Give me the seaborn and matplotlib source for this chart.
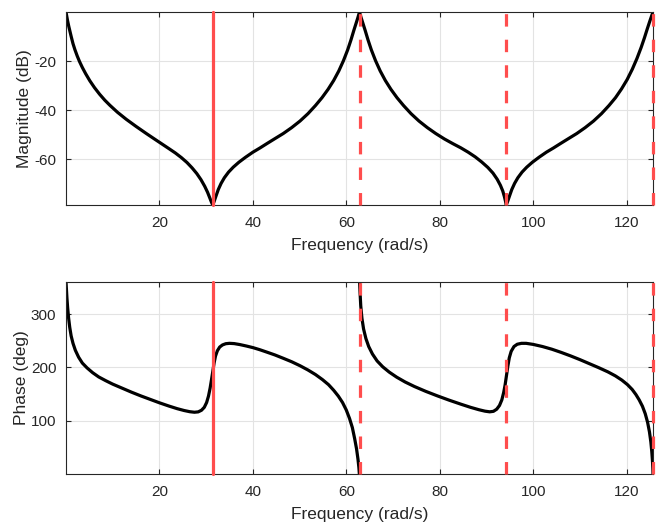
import numpy as np
import pandas as pd
import matplotlib
matplotlib.use("Agg")
import matplotlib.pyplot as plt
import seaborn as sns

# Magnitude response samples (rad/s, dB)
mag_freq = [0, 0.3, 0.6, 1.1, 1.5, 1.9, 2.4, 2.9, 3.5, 4.2, 5.1, 6.1, 7.2, 8.3, 9.4,
            11.0, 12.9, 15.0, 17.2, 19.0, 20.5, 22.0, 23.4, 24.7, 25.9, 27.0, 28.0,
            28.9, 29.7, 30.3, 30.8, 31.15, 31.42,
            31.7, 32.1, 32.6, 33.2, 33.9, 34.8, 35.8, 37.0, 38.4, 40.0, 41.5, 43.0,
            44.7, 46.5, 48.3, 50.1, 51.8, 53.4, 54.8, 56.1, 57.3, 58.4, 59.4, 60.3,
            61.0, 61.6, 62.1, 62.5, 62.83,
            63.16, 63.56, 64.06, 64.66, 65.36, 66.26, 67.26, 68.36, 69.56, 70.86,
            72.26, 73.86, 75.56, 77.36, 79.16, 81.0, 82.8, 84.5, 86.1, 87.6, 89.0,
            90.3, 91.4, 92.3, 93.0, 93.5, 93.85, 94.1, 94.25,
            94.53, 94.93, 95.43, 96.03, 96.73, 97.63, 98.63, 99.83, 101.23, 102.83,
            104.33, 105.83, 107.53, 109.33, 111.13, 112.93, 114.63, 116.23, 117.63,
            118.93, 120.13, 121.23, 122.23, 123.13, 123.83, 124.43, 124.93, 125.33,
            125.66]
mag_db = [0, -3.2, -5.9, -9.9, -12.9, -15.3, -17.9, -20.2, -22.6, -25.1, -28.0,
          -30.8, -33.5, -35.9, -38.0, -40.8, -43.7, -46.6, -49.5, -51.8, -53.7,
          -55.6, -57.4, -59.3, -61.3, -63.5, -65.8, -68.3, -71.0, -73.4, -75.8,
          -77.5, -78.6,
          -77.2, -75.0, -72.3, -69.8, -67.5, -65.2, -63.2, -61.2, -59.2, -57.1,
          -55.4, -53.6, -51.6, -49.5, -47.1, -44.4, -41.4, -38.1, -34.9, -31.5,
          -27.9, -24.0, -19.8, -15.4, -11.4, -7.6, -4.6, -2.2, 0,
          -2.2, -4.6, -7.6, -11.4, -15.4, -19.8, -24.0, -27.9, -31.5, -34.9, -38.1,
          -41.4, -44.4, -47.1, -49.5, -51.7, -53.6, -55.3, -57.1, -59.0, -61.1,
          -63.3, -65.6, -68.1, -70.6, -72.9, -75.2, -77.2, -78.6,
          -77.2, -75.0, -72.3, -69.8, -67.5, -65.2, -63.2, -61.2, -59.2, -57.1,
          -55.4, -53.6, -51.6, -49.5, -47.1, -44.4, -41.4, -38.1, -34.9, -31.3,
          -27.5, -23.3, -18.9, -14.4, -10.5, -6.9, -4.0, -1.8, 0]

# Phase samples (deg), one branch per period
phase_freq_a = [0, 0.1, 0.2, 0.35, 0.55, 0.8, 1.1, 1.5, 2.0, 2.7, 3.5, 4.5, 5.7, 7.0,
                8.5, 10.0, 12.0, 14.0, 16.0, 18.0, 20.0, 22.0, 23.8, 25.3, 26.5, 27.5,
                28.3, 29.0, 29.6, 30.1, 30.5, 30.85, 31.15, 31.42, 31.7, 32.0, 32.4,
                32.9, 33.5, 34.2, 35.0, 36.0, 37.2, 38.6, 40.0, 41.5, 43.0, 44.7, 46.5,
                48.3, 50.1, 51.8, 53.4, 54.9, 56.2, 57.3, 58.3, 59.2, 60.0, 60.7, 61.3,
                61.8, 62.2, 62.5, 62.7, 62.8]
phase_deg_a = [360, 345, 330, 312, 293, 275, 259, 245, 232, 219, 208, 199, 190, 182,
               175, 168.5, 161, 153.5, 146.5, 140, 133.5, 127.5, 122.5, 119, 116.8,
               115.8, 116.5, 119.5, 125, 134, 146, 161, 177, 192, 208, 221, 231, 238,
               242, 244.3, 245, 244.5, 242.7, 240, 237, 233, 228.5, 223.3, 217, 210.5,
               203, 195, 186.5, 177, 167.5, 157, 146, 134, 120, 104, 87, 66, 47, 28, 12,
               0]
phase_freq_b = [62.85, 62.95, 63.1, 63.35, 63.7, 64.2, 64.8, 65.6, 66.6, 67.8, 69.2,
                70.8, 72.6, 74.6, 77.0, 79.5, 82.0, 84.5, 86.6, 88.4, 89.7, 90.7, 91.5,
                92.2, 92.8, 93.3, 93.7, 94.0, 94.3, 94.6, 94.9, 95.3, 95.9, 96.6, 97.5,
                98.5, 100.0, 102.0, 104.0, 106.0, 108.0, 110.0, 112.0, 114.0, 116.0,
                117.6, 119.0, 120.2, 121.2, 122.0, 122.7, 123.4, 124.0, 124.5, 124.9,
                125.2, 125.4, 125.55, 125.63, 125.66]
phase_deg_b = [360, 340, 315, 292, 272, 254, 239, 225, 212, 201, 191, 181.5, 172.5,
               164, 155, 146.5, 138.5, 131, 125, 120.5, 117.8, 116.6, 117.5, 121.5,
               128.5, 139, 153, 167, 185, 203, 218, 230, 239, 243.3, 245, 245, 243, 239,
               234, 228, 221.5, 214.5, 207, 199.5, 191.5, 184, 176, 167.5, 158.5, 149,
               139, 127, 113, 97, 79, 60, 42, 24, 10, 0]

# Reference frequencies marked by vertical lines
marker_freq = [31.42, 62.83, 94.25, 125.66]
marker_style = ["solid", "dashed", "dashed", "dashed"]

x_ticks = [20, 40, 60, 80, 100, 120]
mag_ticks = [-60, -40, -20]
phase_ticks = [100, 200, 300]

sns.set_theme(style="whitegrid")
plt.rcParams["font.family"] = ["Liberation Sans", "DejaVu Sans"]
plt.rcParams["axes.unicode_minus"] = False

TXT = "#262626"
RED = "#ff4d4d"

mag_df = pd.DataFrame({"w": mag_freq, "db": mag_db})
phase_df = pd.concat([
    pd.DataFrame({"w": phase_freq_a, "deg": phase_deg_a, "seg": 0}),
    pd.DataFrame({"w": phase_freq_b, "deg": phase_deg_b, "seg": 1}),
], ignore_index=True)

fig = plt.figure(figsize=(6.56, 5.22), dpi=100)
fig.patch.set_facecolor("white")
ax1 = fig.add_axes([66 / 656, 1 - 205 / 522, 587 / 656, 193 / 522])
ax2 = fig.add_axes([66 / 656, 1 - 474 / 522, 587 / 656, 192 / 522])

sns.lineplot(data=mag_df, x="w", y="db", estimator=None, sort=False,
             color="black", lw=2.3, ax=ax1, zorder=2)
sns.lineplot(data=phase_df, x="w", y="deg", units="seg", estimator=None, sort=False,
             color="black", lw=2.3, ax=ax2, zorder=2)

for ax in (ax1, ax2):
    for w, st in zip(marker_freq, marker_style):
        ln = ax.axvline(w, color=RED, lw=2.3, zorder=3, clip_on=False)
        if st == "dashed":
            ln.set_dashes((3.9, 4.1))
    ax.set_xlim(0, 125.66)
    ax.set_xticks(x_ticks)
    ax.set_xlabel("Frequency (rad/s)", fontsize=12.5, color=TXT, labelpad=5.5)
    ax.set_facecolor("white")
    ax.grid(True, color="#e3e3e3", lw=0.8)
    ax.set_axisbelow(True)
    for sp in ax.spines.values():
        sp.set_visible(True)
        sp.set_color(TXT)
        sp.set_linewidth(0.8)
        sp.set_zorder(2.5)
    ax.tick_params(axis="both", which="major", direction="in", length=3.8, width=0.8,
                   color=TXT, labelcolor=TXT, labelsize=11, pad=7,
                   top=True, right=True, bottom=True, left=True)
    ax.tick_params(axis="x", pad=8)

ax1.set_ylim(-78.6, 0)
ax1.set_yticks(mag_ticks)
ax1.set_ylabel("Magnitude (dB)", fontsize=12.5, color=TXT, labelpad=1.5)

ax2.set_ylim(0, 360)
ax2.set_yticks(phase_ticks)
ax2.set_ylabel("Phase (deg)", fontsize=12.5, color=TXT, labelpad=1.5)

fig.savefig("out.png", dpi=100, facecolor="white")
